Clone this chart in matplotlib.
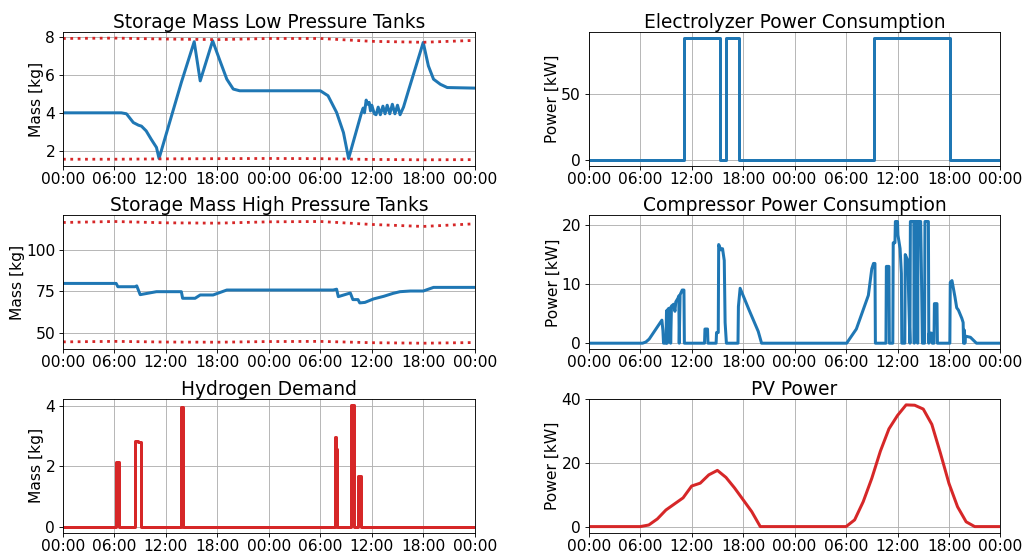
import numpy as np
import pandas as pd
import matplotlib
matplotlib.use("Agg")
import matplotlib.pyplot as plt
import matplotlib.dates as mdates

plt.rcParams['font.size'] = 14

start = pd.Timestamp("2023-06-01 00:00")

# storage mass, low pressure tanks [kg]
lp_h = [0, 6.8, 7.4, 8.2, 8.8, 9.15, 9.7, 10.3, 10.9, 11.2, 13.8, 15.3, 16.0, 17.45,
        18.3, 19.1, 19.85, 20.6, 30.0, 30.9, 31.9, 32.7, 33.3, 34.8, 35.0, 35.15,
        35.35, 35.5, 35.7, 35.85, 36.0, 36.3, 36.5, 36.75, 37.0, 37.3, 37.55,
        37.8, 38.1, 38.4, 38.7, 39.0, 39.3, 39.7,
        40.3, 42.0, 42.6, 43.2, 44.0, 44.8, 48]
lp_kg = [4.0, 4.0, 3.95, 3.49, 3.35, 3.3, 3.05, 2.6, 2.18, 1.6, 5.6, 7.74, 5.68, 7.79,
         6.74, 5.77, 5.25, 5.16, 5.16, 4.9, 4.02, 2.96, 1.6, 4.0, 4.25, 4.0,
         4.67, 4.45, 4.55, 4.1, 4.4, 3.95, 3.9, 4.3, 3.9, 4.35, 3.95,
         4.4, 3.95, 4.45, 3.95, 4.4, 3.9, 4.3,
         5.2, 7.7, 6.47, 5.77, 5.5, 5.33, 5.3]
lim_h = [0, 6, 12, 18, 24, 30, 36, 42, 48]
lp_max = [7.91, 7.93, 7.88, 7.85, 7.91, 7.91, 7.76, 7.71, 7.81]
lp_min = [1.56, 1.56, 1.58, 1.59, 1.6, 1.59, 1.55, 1.53, 1.54]

# storage mass, high pressure tanks [kg]
hp_h = [0, 6.2, 6.4, 8.4, 8.6, 9.0, 10.9, 13.8, 13.95, 15.4, 16.0, 17.5, 19.1,
        31.5, 31.9, 32.1, 33.5, 33.8, 34.4, 34.6, 35.2, 36.2, 37.4, 38.5, 39.3,
        40.5, 42.0, 43.2, 48]
hp_kg = [79.8, 79.8, 77.8, 77.8, 78.3, 73.0, 74.8, 74.8, 70.8, 70.8, 72.8, 72.8, 75.8,
         75.8, 76.3, 71.8, 74.0, 70.0, 70.0, 68.0, 68.3, 70.4, 72.0, 73.8, 74.8,
         75.2, 75.2, 77.4, 77.4]
hp_max = [116.7, 117.3, 116.5, 116.3, 117.1, 117.3, 115.5, 114.3, 115.9]
hp_min = [44.4, 44.7, 44.3, 44.2, 44.6, 44.7, 43.9, 43.6, 44.0]

# hydrogen demand [kg]
dem_h = [0, 6.23, 6.54, 8.37, 8.75, 9.15, 13.74, 14.0, 31.7, 31.85, 32.0,
         33.6, 33.9, 34.4, 34.7, 48]
dem_kg = [0, 2.15, 0, 2.84, 2.80, 0, 3.97, 0, 2.97, 2.57, 0,
          4.05, 0, 1.67, 0, 0]

# electrolyzer power [kW]
ely_h = [0, 11.16, 15.36, 15.99, 17.54, 33.3, 42.16, 48]
ely_kw = [0, 92.4, 0, 92.4, 0, 92.4, 0, 0]

# compressor power [kW]
comp_h = [0, 6.27, 6.66, 7.05, 8.53, 8.65, 8.72, 9.0, 9.07, 9.15, 9.25, 9.5, 9.55,
          9.65, 9.9, 10.05, 10.15, 10.4, 10.5, 10.55, 10.65, 10.9, 11.1, 11.15,
          13.5, 13.55, 13.85, 13.9, 14.85, 14.9, 15.1, 15.15, 15.4, 15.6, 15.8,
          15.9, 16.05, 17.4, 17.45, 17.65, 18.7, 19.76, 20.15,
          30.07, 31.2, 32.6, 33.0, 33.2, 33.37, 33.42,
          34.65, 34.7, 35.0, 35.05, 35.45, 35.5, 35.7, 35.75, 36.0, 36.05, 36.3,
          36.45, 36.5, 36.85, 36.9, 37.2, 37.3, 37.45, 37.5, 37.9, 37.95, 38.0,
          38.3, 38.35, 38.4, 38.7, 38.8, 38.9, 39.15, 39.2, 39.6, 39.65, 39.7,
          40.0, 40.05, 40.25, 40.3, 40.6, 40.65,
          42.1, 42.15, 42.35, 42.7, 42.9, 43.1, 43.5, 43.65, 43.7, 43.8, 43.85,
          43.9, 44.5, 45.2, 48]
comp_kw = [0, 0, 0.2, 0.7, 3.9, 2.1, 0, 0, 5.5, 0, 5.8, 6.0, 0,
           6.3, 6.6, 5.4, 7.0, 7.6, 8.0, 0, 8.2, 9.0, 9.0, 0,
           0, 2.4, 2.4, 0, 0, 1.8, 1.8, 16.7, 15.8, 16.0, 14.0,
           3.5, 0, 0, 6.2, 9.3, 5.6, 2.0, 0,
           0, 2.4, 8.1, 12.6, 13.5, 13.5, 0,
           0, 13.0, 13.0, 0, 0, 17.0, 17.0, 20.6, 20.6, 18.3, 16.0,
           11.8, 0, 0, 15.0, 14.0, 7.8, 0, 20.6, 20.6, 0, 20.6,
           20.6, 0, 20.6, 20.6, 10.7, 0, 0, 20.6, 20.6, 0, 1.7,
           1.7, 0, 0, 6.7, 6.7, 0,
           0, 10.3, 10.6, 7.8, 6.0, 5.6, 4.2, 3.5, 0, 2.2, 0,
           1.2, 1.0, 0, 0]

# PV power, hourly [kW]
pv_kw = [0, 0, 0, 0, 0, 0, 0, 0.5, 2.4, 5.2, 7.1, 9.0, 12.7, 13.6, 16.2, 17.6,
         15.4, 12.1, 8.4, 4.7, 0, 0, 0, 0, 0, 0, 0, 0, 0, 0, 0, 2.1, 7.8, 15.1,
         23.6, 30.6, 34.8, 38.1, 38.0, 36.8, 32.0, 23.0, 13.5, 6.2, 1.5, 0, 0, 0, 0]


def to_time(hours):
    return start + pd.to_timedelta(np.asarray(hours, dtype=float), unit="h")


fig, axs = plt.subplots(3, 2, figsize=(12.8, 6.9), dpi=80)
fig.subplots_adjust(left=0.0615, right=0.977, top=0.942, bottom=0.035,
                    wspace=0.277, hspace=0.37)

ax = axs[0, 0]
ax.plot(to_time(lp_h), lp_kg, color="tab:blue", lw=2.7)
ax.plot(to_time(lim_h), lp_max, ":", color="tab:red", lw=2.5)
ax.plot(to_time(lim_h), lp_min, ":", color="tab:red", lw=2.5)
ax.set_title("Storage Mass Low Pressure Tanks", pad=3.5)
ax.set_ylabel("Mass [kg]", labelpad=1)

ax = axs[1, 0]
ax.plot(to_time(hp_h), hp_kg, color="tab:blue", lw=2.7)
ax.plot(to_time(lim_h), hp_max, ":", color="tab:red", lw=2.5)
ax.plot(to_time(lim_h), hp_min, ":", color="tab:red", lw=2.5)
ax.set_title("Storage Mass High Pressure Tanks", pad=3.5)
ax.set_ylabel("Mass [kg]", labelpad=1)

ax = axs[2, 0]
ax.plot(to_time(dem_h), dem_kg, color="tab:red", lw=2.7, drawstyle="steps-post")
ax.set_title("Hydrogen Demand", pad=3.5)
ax.set_ylabel("Mass [kg]", labelpad=1)

ax = axs[0, 1]
ax.plot(to_time(ely_h), ely_kw, color="tab:blue", lw=2.7, drawstyle="steps-post")
ax.set_title("Electrolyzer Power Consumption", pad=3.5)
ax.set_ylabel("Power [kW]", labelpad=1)

ax = axs[1, 1]
ax.plot(to_time(comp_h), comp_kw, color="tab:blue", lw=2.7)
ax.set_title("Compressor Power Consumption", pad=3.5)
ax.set_ylabel("Power [kW]", labelpad=1)

ax = axs[2, 1]
ax.plot(to_time(np.arange(len(pv_kw))), pv_kw, color="tab:red", lw=2.7)
ax.set_title("PV Power", pad=3.5)
ax.set_ylabel("Power [kW]", labelpad=1)

for ax in axs.flat:
    ax.set_xlim(start, start + pd.Timedelta(hours=48))
    ax.xaxis.set_major_locator(mdates.HourLocator(byhour=[0, 6, 12, 18]))
    ax.xaxis.set_major_formatter(mdates.DateFormatter("%H:%M"))
    ax.tick_params(axis="x", pad=2)
    ax.grid(True)

fig.savefig("out.png", dpi=80)
